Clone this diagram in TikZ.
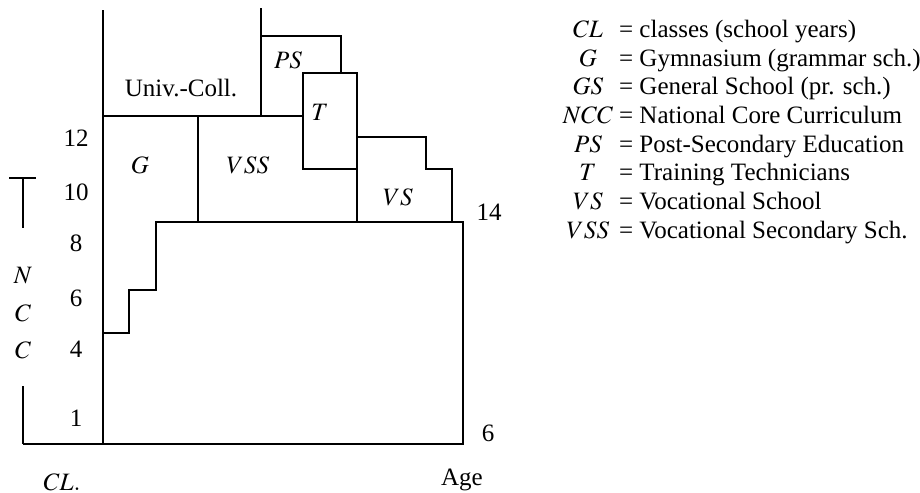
\documentclass[tikz,border=0pt]{standalone}
\usepackage{mathptmx}
\usepackage{fontspec}
\setmainfont{Liberation Serif}

\begin{document}
\begin{tikzpicture}[%
x=0.4pt,y=-0.4pt,
line width=0.9pt,
every node/.style={inner sep=0pt,font=\fontsize{10}{12}\selectfont},
key/.style={anchor=base},
expl/.style={anchor=base west},
]
\useasboundingbox (0,0) rectangle (920,493);
%% outline;
\draw (103,10) -- (103,444);
\draw (23,444) -- (463,444) -- (463,222) -- (156,222) -- (156,290) -- (129,290) -- (129,333) -- (103,333);
%% upper blocks;
\draw (103,116) -- (303,116);
\draw (261,8) -- (261,116);
\draw (198,116) -- (198,222);
\draw (261,36) -- (341,36) -- (341,73);
\draw (303,73) rectangle (357,169);
\draw (357,169) -- (357,222);
\draw (357,137) -- (426,137) -- (426,169) -- (452,169) -- (452,222);
%% NCC bracket;
\draw (9,178) -- (36,178);
\draw (23,178) -- (23,228);
\draw (23,386) -- (23,444);
%% labels;
\node (univ) at (181,88) {Univ.-Coll.};
\node (ps) at (288,60) {$PS$};
\node (t) at (320,112) {$T$};
\node (g) at (140,165) {$G$};
\node (vss) at (248,165) {$VSS$};
\node (vs) at (398,197) {$VS$};
\node (age14) at (489,212) {14};
\node (age6) at (488,433) {6};
\node (age) at (462,480) {Age};
\node (cl) at (62,482) {$CL.$};
%% classes;
\node (c12) at (76,138) {12};
\node (c10) at (76,192) {10};
\node (c8) at (76,243) {8};
\node (c6) at (76,298) {6};
\node (c4) at (76,349) {4};
\node (c1) at (76,418) {1};
%% NCC;
\node (n1) at (23,276) {$N$};
\node (n2) at (23,313) {$C$};
\node (n3) at (23,350) {$C$};
%% legend;
\node[key] (kcl) at (588,37) {$CL$};
\node[expl] (ecl) at (618,37) {= classes (school years)};
\node[key] (kg) at (588,66) {$G$};
\node[expl] (eg) at (618,66) {= Gymnasium (grammar sch.)};
\node[key] (kgs) at (588,94) {$GS$};
\node[expl] (egs) at (618,94) {= General School (pr. sch.)};
\node[key] (kncc) at (588,123) {$NCC$};
\node[expl] (encc) at (618,123) {= National Core Curriculum};
\node[key] (kps) at (588,152) {$PS$};
\node[expl] (eps) at (618,152) {= Post-Secondary Education};
\node[key] (kt) at (588,180) {$T$};
\node[expl] (et) at (618,180) {= Training Technicians};
\node[key] (kvs) at (588,209) {$VS$};
\node[expl] (evs) at (618,209) {= Vocational School};
\node[key] (kvss) at (588,238) {$VSS$};
\node[expl] (evss) at (618,238) {= Vocational Secondary Sch.};
\end{tikzpicture}
\end{document}
